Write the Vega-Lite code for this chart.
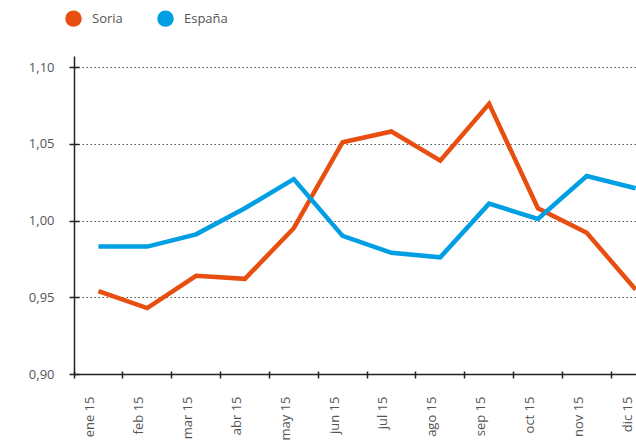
{
  "$schema": "https://vega.github.io/schema/vega-lite/v6.json",
  "width": 562,
  "height": 318,
  "autosize": {"type": "none"},
  "padding": {"left": 74, "top": 56, "right": 0, "bottom": 69},
  "background": "white",
  "config": {"view": {"stroke": null}},
  "data": {
    "values": [
      {"mes": "ene 15", "serie": "Soria", "valor": 0.954},
      {"mes": "feb 15", "serie": "Soria", "valor": 0.943},
      {"mes": "mar 15", "serie": "Soria", "valor": 0.964},
      {"mes": "abr 15", "serie": "Soria", "valor": 0.962},
      {"mes": "may 15", "serie": "Soria", "valor": 0.995},
      {"mes": "jun 15", "serie": "Soria", "valor": 1.051},
      {"mes": "jul 15", "serie": "Soria", "valor": 1.058},
      {"mes": "ago 15", "serie": "Soria", "valor": 1.039},
      {"mes": "sep 15", "serie": "Soria", "valor": 1.076},
      {"mes": "oct 15", "serie": "Soria", "valor": 1.008},
      {"mes": "nov 15", "serie": "Soria", "valor": 0.992},
      {"mes": "dic 15", "serie": "Soria", "valor": 0.955},
      {"mes": "ene 15", "serie": "España", "valor": 0.983},
      {"mes": "feb 15", "serie": "España", "valor": 0.983},
      {"mes": "mar 15", "serie": "España", "valor": 0.991},
      {"mes": "abr 15", "serie": "España", "valor": 1.008},
      {"mes": "may 15", "serie": "España", "valor": 1.027},
      {"mes": "jun 15", "serie": "España", "valor": 0.990},
      {"mes": "jul 15", "serie": "España", "valor": 0.979},
      {"mes": "ago 15", "serie": "España", "valor": 0.976},
      {"mes": "sep 15", "serie": "España", "valor": 1.011},
      {"mes": "oct 15", "serie": "España", "valor": 1.001},
      {"mes": "nov 15", "serie": "España", "valor": 1.029},
      {"mes": "dic 15", "serie": "España", "valor": 1.021}
    ]
  },
  "layer": [
    {
      "mark": {"type": "line", "opacity": 0},
      "encoding": {
        "x": {
          "field": "mes", "type": "ordinal",
          "sort": ["ene 15","feb 15","mar 15","abr 15","may 15","jun 15","jul 15","ago 15","sep 15","oct 15","nov 15","dic 15"],
          "scale": {"type": "band", "range": [0, 586], "paddingInner": 0, "paddingOuter": 0},
          "axis": {"orient": "bottom", "title": null, "bandPosition": 0, "labels": false, "domain": false, "grid": false, "tickSize": -3, "tickColor": "#222", "tickWidth": 1.5}
        },
        "y": {
          "field": "valor", "type": "quantitative",
          "scale": {"domain": [0.9, 1.1072], "nice": false, "zero": false},
          "axis": {"orient": "left", "title": null, "values": [0.9, 0.95, 1, 1.05, 1.1], "labels": false, "domain": false, "grid": false, "tickSize": -5, "tickColor": "#222", "tickWidth": 1.5}
        }
      }
    },
    {
      "mark": {"type": "line", "strokeWidth": 4.5, "strokeCap": "butt", "strokeJoin": "miter"},
      "encoding": {
        "x": {
          "field": "mes", "type": "ordinal",
          "sort": ["ene 15","feb 15","mar 15","abr 15","may 15","jun 15","jul 15","ago 15","sep 15","oct 15","nov 15","dic 15"],
          "axis": {
            "orient": "bottom", "title": null, "bandPosition": 0, "labelOffset": -8, "labelAngle": -90,
            "labelAlign": "right", "labelBaseline": "middle", "labelPadding": 18,
            "labelFont": "Open Sans", "labelFontSize": 13, "labelColor": "#555",
            "tickSize": 4, "tickColor": "#222", "tickWidth": 1.5,
            "domainColor": "#222", "domainWidth": 1.5, "grid": false
          }
        },
        "y": {
          "field": "valor", "type": "quantitative",
          "axis": {
            "orient": "left", "title": null, "values": [0.9, 0.95, 1, 1.05, 1.1],
            "labelExpr": "replace(format(datum.value, '.2f'), '.', ',')",
            "labelFont": "Open Sans", "labelFontSize": 13, "labelColor": "#555", "labelPadding": 15,
            "tickSize": 5, "tickColor": "#222", "tickWidth": 1.5,
            "domainColor": "#222", "domainWidth": 1.5,
            "grid": true, "gridColor": "#555", "gridDash": [1.5, 2.5], "gridWidth": 1
          }
        },
        "color": {
          "field": "serie", "type": "nominal",
          "scale": {"domain": ["Soria", "España"], "range": ["#E84E0F", "#009FE3"]},
          "legend": {
            "orient": "none", "legendX": -9, "legendY": -46, "direction": "horizontal",
            "title": null, "padding": 0, "symbolType": "circle", "symbolSize": 272,
            "symbolStrokeWidth": 0, "labelFont": "Open Sans", "labelFontSize": 13, "labelColor": "#555",
            "labelOffset": 10, "columnPadding": 34,
            "encode": {"symbols": {"update": {"fill": {"scale": "color", "field": "value"}, "fillOpacity": {"value": 1}, "strokeWidth": {"value": 0}}}}
          }
        }
      }
    }
  ],
  "resolve": {"axis": {"x": "independent", "y": "independent"}}
}
